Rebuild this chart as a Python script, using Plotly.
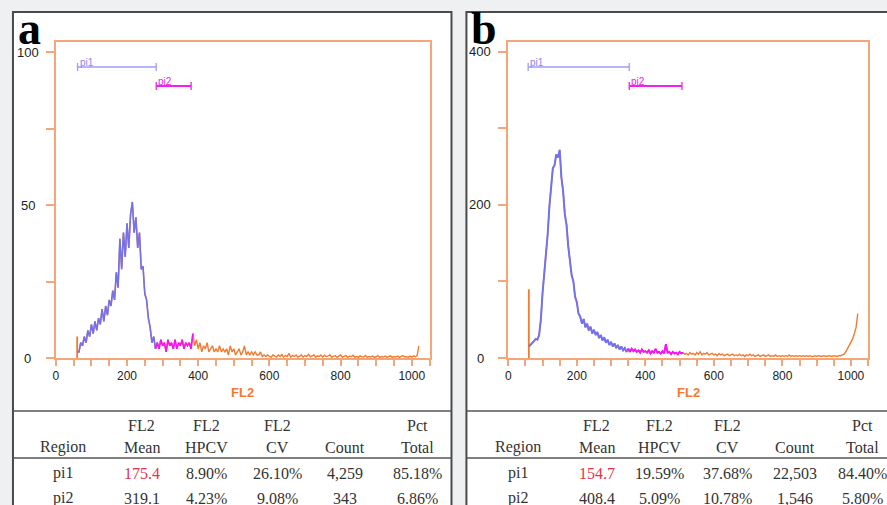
import plotly.graph_objects as go

W, H = 887, 505

# ---------------- data ----------------
channels = list(range(60, 1025, 5))  # FL2 channel bins 60 ... 1020

counts_a = [
    2, 2, 5, 4, 7, 5, 9, 7, 11, 8,
    12, 9, 13, 11, 16, 12, 17, 14, 19, 17,
    22, 19, 28, 23, 39, 29, 41, 33, 44, 36,
    47, 51, 41, 46, 36, 41, 29, 30, 21, 19,
    13, 10, 5, 7, 3, 5, 3, 6, 4, 5,
    2, 6, 4, 5, 3, 6, 3, 5, 4, 6,
    3, 5, 4, 5, 3, 8, 4, 6, 3, 5,
    2, 4, 3, 5, 2, 3, 4, 2, 3, 2,
    4, 2, 3, 2, 3, 1, 4, 2, 3, 1,
    2, 3, 1, 2, 4, 1, 2, 1, 2, 1,
    2, 1, 1, 2, 0.5, 1, 0.5, 1, 0.5, 0.3,
    1, 0.5, 0.3, 1, 0.5, 1.2, 0.3, 0.8, 0.5, 1.5,
    0.3, 0.8, 0.5, 1, 0.3, 0.6, 1, 0.3, 0.8, 0.5,
    1.2, 0.4, 0.8, 1, 0.3, 0.7, 0.5, 1, 0.3, 0.9,
    0.4, 0.6, 1, 0.3, 0.5, 0.8, 0.2, 0.6, 1, 0.3,
    0.5, 0.8, 0.2, 0.6, 0.4, 0.9, 0.3, 0.5, 0.2, 0.7,
    0.4, 0.3, 0.8, 0.2, 0.5, 0.3, 0.6, 0.2, 0.4, 0.8,
    0.2, 0.5, 0.3, 0.6, 0.2, 0.4, 0.7, 0.2, 0.5, 0.3,
    0.6, 0.2, 0.4, 0.8, 0.3, 0.5, 0.2, 0.6, 0.3, 0.7,
    0.4, 0.8, 4,
]

counts_b = [
    15, 17, 20, 22, 25, 24, 30, 50, 85, 108,
    138, 162, 198, 224, 248, 252, 266, 262, 272, 236,
    218, 188, 174, 146, 130, 108, 100, 80, 73, 58,
    54, 45, 51, 40, 45, 36, 41, 32, 37, 30,
    34, 26, 30, 23, 27, 20, 24, 17, 21, 15,
    19, 13, 17, 11, 15, 10, 13, 8, 12, 8,
    12, 9, 11, 8, 10, 7, 11, 8, 9, 7,
    10, 6, 9, 7, 12, 7, 8, 6, 9, 6,
    18, 7, 8, 5, 8, 6, 7, 5, 8, 6,
    7, 5, 6, 4, 7, 5, 6, 4, 7, 5,
    8, 4, 6, 5, 7, 4, 5, 6, 4, 5,
    3, 6, 4, 5, 3, 4, 5, 3, 4, 5,
    3, 4, 3, 5, 3, 4, 2, 4, 3, 5,
    3, 4, 2, 3, 4, 2, 3, 4, 2, 3,
    4, 2, 3, 2, 4, 2, 3, 2, 3, 2,
    3, 2, 4, 2, 3, 2, 3, 2, 3, 2,
    3, 2, 3, 2, 3, 2, 2, 3, 2, 3,
    2, 2, 3, 2, 2, 3, 2, 2, 3, 2,
    2, 3, 3, 4, 5, 8, 12, 16, 20, 25,
    32, 40, 58,
]

spike_channel = 60
spike_a = 7
spike_b = 90

gates_a = [("pi1", 61, 282), ("pi2", 282, 380)]
gates_b = [("pi1", 58, 353), ("pi2", 353, 507)]

xticks = [0, 200, 400, 600, 800, 1000]
yticks_a = [0, 50, 100]
yticks_b = [0, 200, 400]

header_top = ["", "FL2", "FL2", "FL2", "", "Pct"]
header_bottom = ["Region", "Mean", "HPCV", "CV", "Count", "Total"]
rows_a = [["pi1", "175.4", "8.90%", "26.10%", "4,259", "85.18%"],
          ["pi2", "319.1", "4.23%", "9.08%", "343", "6.86%"]]
rows_b = [["pi1", "154.7", "19.59%", "37.68%", "22,503", "84.40%"],
          ["pi2", "408.4", "5.09%", "10.78%", "1,546", "5.80%"]]

# ---------------- style ----------------
ORANGE = "#f47a30"
FRAME = "#f6a576"
BLUE = "#7272f0"
MAGENTA = "#f414f4"
GATE_COLORS = {"pi1": "#9d9df4", "pi2": "#ee22ee"}
LABEL_COLORS = {"pi1": "#8686ee", "pi2": "#ee22ee"}
SEG_COLORS = {"pi1": BLUE, "pi2": MAGENTA}
BORDER = "#4a4a4a"
TXT = "#333333"


def PX(x):
    return x / W


def PY(y):
    return 1 - y / H


panels = [
    dict(counts=counts_a, spike=spike_a, gates=gates_a, xa="x", ya="y",
         xdom=(53, 428), yr=103.3, yminor=25, yticks=yticks_a, ylab_x=25,
         box=(10, 450), letter="a", letter_x=13, lw=1.6,
         cols=[60, 139, 204, 275, 343, 416], rows=rows_a),
    dict(counts=counts_b, spike=spike_b, gates=gates_b, xa="x2", ya="y2",
         xdom=(507, 868), yr=413, yminor=100, yticks=yticks_b, ylab_x=479,
         box=(465, 900), letter="b", letter_x=468, lw=2.0,
         cols=[517, 596, 659, 727, 795, 862], rows=rows_b),
]

fig = go.Figure()
shapes = []
annotations = []
YTOP, YBOT = 42, 358
step = channels[1] - channels[0]

for i, p in enumerate(panels):
    xa, ya = p["xa"], p["ya"]
    # full histogram in orange
    fig.add_trace(go.Scatter(x=channels, y=p["counts"], mode="lines",
                             line=dict(color=ORANGE, width=1.4),
                             xaxis=xa, yaxis=ya, hoverinfo="skip"))
    fig.add_trace(go.Scatter(x=[spike_channel, spike_channel], y=[0, p["spike"]],
                             mode="lines", line=dict(color=ORANGE, width=1.8),
                             xaxis=xa, yaxis=ya, hoverinfo="skip"))
    # gated segments
    for name, lo, hi in p["gates"]:
        seg = [(c, v) for c, v in zip(channels, p["counts"])
               if lo - step <= c <= hi + step]
        fig.add_trace(go.Scatter(x=[s[0] for s in seg], y=[s[1] for s in seg],
                                 mode="lines",
                                 line=dict(color=SEG_COLORS[name], width=p["lw"]),
                                 xaxis=xa, yaxis=ya, hoverinfo="skip"))

    # panel box
    bx0, bx1 = p["box"]
    shapes.append(dict(type="rect", xref="paper", yref="paper",
                       x0=PX(bx0), x1=PX(bx1), y0=PY(520), y1=PY(12),
                       fillcolor="white", line=dict(color=BORDER, width=2),
                       layer="below"))
    for yy in (411, 458):
        shapes.append(dict(type="line", xref="paper", yref="paper",
                           x0=PX(bx0), x1=PX(bx1), y0=PY(yy), y1=PY(yy),
                           line=dict(color="#555555", width=1.5)))

    # gate bars
    xref = xa
    yref = ya + " domain"
    for k, (name, lo, hi) in enumerate(p["gates"]):
        ypix = 67 if k == 0 else 86
        yd = (YBOT - ypix) / (YBOT - YTOP)
        dh = 4 / (YBOT - YTOP)
        col = GATE_COLORS[name]
        wdt = 1.3 if name == "pi1" else 2
        shapes.append(dict(type="line", xref=xref, yref=yref, x0=lo, x1=hi,
                           y0=yd, y1=yd, line=dict(color=col, width=wdt)))
        for xe in (lo, hi):
            shapes.append(dict(type="line", xref=xref, yref=yref, x0=xe, x1=xe,
                               y0=yd - dh, y1=yd + dh, line=dict(color=col, width=1.3)))
        annotations.append(dict(x=lo, y=yd, xref=xref, yref=yref, text=name,
                                showarrow=False, xanchor="left", yanchor="bottom",
                                xshift=0, yshift=-3,
                                font=dict(family="Liberation Sans", size=10,
                                          color=LABEL_COLORS[name])))

    # y tick labels (centered like the reference)
    for v in p["yticks"]:
        annotations.append(dict(x=PX(p["ylab_x"]), y=v, xref="paper", yref=ya,
                                text=str(v), showarrow=False, xanchor="center",
                                yanchor="middle",
                                font=dict(family="Liberation Sans", size=13, color="#222")))

    # axis title
    xd0, xd1 = p["xdom"]
    annotations.append(dict(x=PX((xd0 + xd1) / 2), y=PY(392), xref="paper", yref="paper",
                            text="<b>FL2</b>", showarrow=False, xanchor="center",
                            yanchor="middle",
                            font=dict(family="Liberation Sans", size=13, color=ORANGE)))

    # panel letter
    annotations.append(dict(x=PX(p["letter_x"]), y=PY(28), xref="paper", yref="paper",
                            text="<b>%s</b>" % p["letter"], showarrow=False,
                            xanchor="left", yanchor="middle",
                            font=dict(family="Liberation Serif", size=46, color="black")))

    # table
    tfont = dict(family="Liberation Serif", size=16, color=TXT)
    for cx, t1, t2 in zip(p["cols"], header_top, header_bottom):
        if t1:
            annotations.append(dict(x=PX(cx), y=PY(425), xref="paper", yref="paper",
                                    text=t1, showarrow=False, xanchor="center",
                                    yanchor="middle", font=tfont))
        annotations.append(dict(x=PX(cx), y=PY(447), xref="paper", yref="paper",
                                text=t2, showarrow=False, xanchor="center",
                                yanchor="middle", font=tfont))
    for r, ry in zip(p["rows"], (473, 498)):
        for j, (cx, cell) in enumerate(zip(p["cols"], r)):
            f = dict(tfont)
            if r[0] == "pi1" and j == 1:
                f["color"] = "#e8334a"
            annotations.append(dict(x=PX(cx), y=PY(ry), xref="paper", yref="paper",
                                    text=cell, showarrow=False, xanchor="center",
                                    yanchor="middle", font=f))

axis_common = dict(showline=True, mirror=True, linecolor=FRAME, linewidth=2,
                   ticks="outside", tickcolor=FRAME, tickwidth=1.5,
                   showgrid=False, zeroline=False, fixedrange=True)

layout = dict(
    width=W, height=H, margin=dict(l=0, r=0, t=0, b=0),
    paper_bgcolor="#eef0f2", plot_bgcolor="rgba(0,0,0,0)",
    showlegend=False, shapes=shapes, annotations=annotations,
)
for i, p in enumerate(panels):
    sfx = "" if i == 0 else "2"
    xd0, xd1 = p["xdom"]
    layout["xaxis" + sfx] = dict(
        axis_common, domain=[PX(xd0), PX(xd1)], range=[0, 1050],
        anchor="y" + sfx, tickmode="array", tickvals=xticks,
        ticktext=[str(v) for v in xticks], ticklen=6,
        tickfont=dict(family="Liberation Sans", size=12, color="#222"),
        minor=dict(tickmode="linear", tick0=0, dtick=50, ticks="outside",
                   ticklen=6, tickcolor=FRAME, tickwidth=1.5, showgrid=False))
    layout["yaxis" + sfx] = dict(
        axis_common, domain=[PY(YBOT), PY(YTOP)], range=[0, p["yr"]],
        anchor="x" + sfx, tickmode="linear", tick0=0, dtick=p["yminor"],
        ticklen=8, showticklabels=False)

fig.update_layout(**layout)
fig.write_html(
    "out.html",
    config={"displayModeBar": False},
    post_script="document.body.style.margin='0';document.body.style.overflow='hidden';",
)
